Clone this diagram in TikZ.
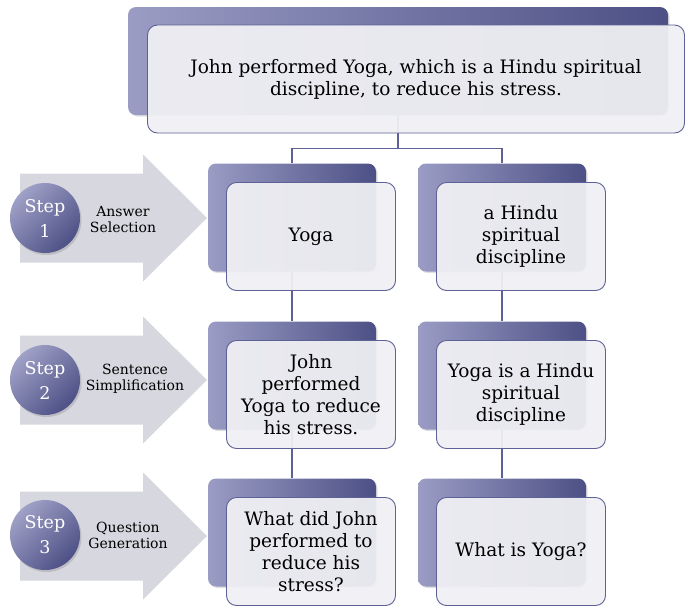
\documentclass[tikz,border=0pt]{standalone}
\usepackage{fontspec}
\setmainfont{DejaVu Serif}
\usetikzlibrary{shadows,backgrounds,calc}
\definecolor{QGDark}{RGB}{77,80,133}
\definecolor{QGLight}{RGB}{154,156,196}
\definecolor{QGLine}{RGB}{94,97,149}
\definecolor{QGFront}{RGB}{240,240,244}
\definecolor{QGArrow}{RGB}{214,215,223}

\begin{document}
\begin{tikzpicture}[x=1pt,y=-1pt,
  back/.style={rounded corners=8pt,minimum width=168pt,minimum height=108pt,
               left color=QGLight,right color=QGDark,inner sep=0pt,
               drop shadow={opacity=0.25,shadow xshift=1.5pt,shadow yshift=-1.5pt}},
  front/.style={draw=QGLine,line width=0.9pt,rounded corners=10pt,fill=QGFront,
                fill opacity=0.94,text opacity=1,minimum width=169pt,
                minimum height=108pt,align=center,inner sep=2pt,
                font=\fontsize{18.5}{22}\selectfont},
  steparrow/.style={fill=QGArrow},
  stepball/.style={circle,minimum size=70pt,inner sep=0pt,text=white,align=center,
                   top color=QGLight!95!white,bottom color=QGDark,shading angle=45,
                   font=\fontsize{17.5}{25}\selectfont,
                   drop shadow={opacity=0.3,shadow xshift=1.5pt,shadow yshift=-2pt}},
  steplabel/.style={align=center,font=\fontsize{14}{16}\selectfont},
  link/.style={draw=QGLine,line width=1.2pt},
]
\useasboundingbox (0,0) rectangle (694,614);

% steps on the left
\foreach \y in {218,380,536}
  \fill[steparrow] (20,\y-44.5) -- (143,\y-44.5) -- (143,\y-63.5) -- (207,\y)
    -- (143,\y+63.5) -- (143,\y+44.5) -- (20,\y+44.5) -- cycle;
\node[stepball] (step1) at (45,218) {Step\\1};
\node[stepball] (step2) at (45,380) {Step\\2};
\node[stepball] (step3) at (45,535) {Step\\3};
\node[steplabel] (label1) at (123,219) {Answer\\Selection};
\node[steplabel] (label2) at (135,379) {Sentence\\Simplification};
\node[steplabel] (label3) at (128,535) {Question\\Generation};

% sentence on top
\node[back,minimum width=540pt] (sentback) at (398,61) {};
\node[front,minimum width=537pt] (sentence) at ([shift={(18,18)}]sentback.center)
  {John performed Yoga, which is a Hindu spiritual\\discipline, to reduce his stress.};

% answers, simplified sentences, questions
\node[back] (ansL) at (292,217.5) {};
\node[back] (ansR) at (502,217.5) {};
\node[back] (simL) at (292,375.5) {};
\node[back] (simR) at (502,375.5) {};
\node[back] (qL) at (292,532.5) {};
\node[back] (qR) at (502,532.5) {};
\node[front] (yoga) at ([shift={(19,19)}]ansL.center) {Yoga};
\node[front] (hindu) at ([shift={(19,19)}]ansR.center) {a Hindu\\spiritual\\discipline};
\node[front] (simple) at ([shift={(19,19)}]simL.center) {John\\performed\\Yoga to reduce\\his stress.};
\node[front] (isa) at ([shift={(19,19)}]simR.center) {Yoga is a Hindu\\spiritual\\discipline};
\node[front] (whatdid) at ([shift={(19,19)}]qL.center) {What did John\\performed to\\reduce his\\stress?};
\node[front] (whatis) at ([shift={(19,19)}]qR.center) {What is Yoga?};

\begin{scope}[on background layer]
  \draw[link] (sentback.south) -- ++(0,33) coordinate (fork) -| (ansL.north);
  \draw[link] (fork) -| (ansR.north);
  \draw[link] (ansL.south) -- (simL.north);
  \draw[link] (simL.south) -- (qL.north);
  \draw[link] (ansR.south) -- (simR.north);
  \draw[link] (simR.south) -- (qR.north);
\end{scope}
\end{tikzpicture}
\end{document}
